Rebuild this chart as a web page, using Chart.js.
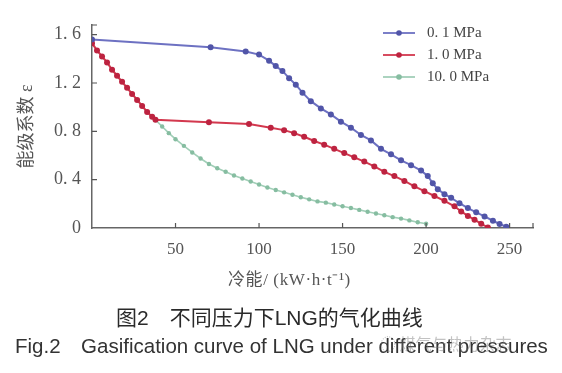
<!DOCTYPE html>
<html>
<head>
<meta charset="utf-8">
<script src="https://cdn.jsdelivr.net/npm/chart.js@4.4.1/dist/chart.umd.min.js"></script>
<style>
  body { margin: 0; background: #fff; }
  #wrap { position: relative; width: 562px; height: 373px; overflow: hidden; background: #fff; }
  #wrap canvas { position: absolute; left: 0; top: 0; }
  .note { position: absolute; white-space: nowrap; line-height: 1; }
  #xTitle { left: 228px; top: 271px; font-size: 17px; letter-spacing: 0.6px; font-family: 'Liberation Serif', 'Noto Sans CJK SC'; color: #555; }
  #capCn { left: 116px; top: 307px; font-size: 21px; font-family: 'Liberation Sans', 'Noto Sans CJK SC'; color: #2a2a2a; }
  #capEn { left: 15px; top: 336px; font-size: 20.5px; font-family: 'Liberation Sans', Arial; color: #333; }
  #mark { left: 380px; top: 335px; font-size: 16px; font-family: 'Noto Sans CJK SC'; color: rgba(120,120,120,0.45); }
</style>
</head>
<body>
<div id="wrap">
  <canvas id="gasChart" width="562" height="373"></canvas>
  <div class="note" id="xTitle">冷能/ (kW·h·t⁻¹)</div>
  <div class="note" id="capCn">图2&emsp;不同压力下LNG的气化曲线</div>
  <div class="note" id="capEn">Fig.2&emsp;Gasification curve of LNG under different pressures</div>
  <div class="note" id="mark">◌ 煤气与热力杂志</div>
</div>
<script>
// --- data ---
const seriesNames = ['0. 1 MPa', '1. 0 MPa', '10. 0 MPa'];

const cold01 = [0, 71, 92, 100, 106, 110, 114, 118, 122, 126, 131, 137, 143, 149, 155, 161, 167, 173, 179, 185, 191, 197, 201, 204, 207, 211, 215, 220, 225, 230, 235, 240, 244, 248];
const eps01  = [1.56, 1.495, 1.46, 1.435, 1.385, 1.34, 1.30, 1.24, 1.186, 1.12, 1.05, 0.99, 0.94, 0.88, 0.83, 0.77, 0.725, 0.655, 0.61, 0.56, 0.52, 0.475, 0.43, 0.37, 0.32, 0.28, 0.25, 0.205, 0.165, 0.13, 0.096, 0.06, 0.033, 0.01];

const cold10 = [0, 3, 6, 9, 12, 15, 18, 21, 24, 27, 30, 33, 36, 38, 70, 94, 107, 115, 121, 127, 133, 139, 145, 151, 157, 163, 169, 175, 181, 187, 193, 199, 205, 211, 217, 221, 225, 229, 233, 237];
const eps10  = [1.53, 1.47, 1.42, 1.37, 1.31, 1.26, 1.21, 1.16, 1.11, 1.06, 1.01, 0.96, 0.92, 0.895, 0.875, 0.86, 0.83, 0.81, 0.785, 0.755, 0.72, 0.69, 0.655, 0.62, 0.585, 0.55, 0.51, 0.465, 0.43, 0.39, 0.345, 0.305, 0.265, 0.225, 0.18, 0.137, 0.10, 0.069, 0.035, 0.005];

const cold100 = [0, 3, 6, 9, 12, 15, 18, 21, 24, 27, 30, 33, 36, 38, 42, 46, 50, 55, 60, 65, 70, 75, 80, 85, 90, 95, 100, 105, 110, 115, 120, 125, 130, 135, 140, 145, 150, 155, 160, 165, 170, 175, 180, 185, 190, 195, 200];
const eps100  = [1.53, 1.47, 1.42, 1.37, 1.31, 1.26, 1.21, 1.16, 1.11, 1.06, 1.01, 0.96, 0.92, 0.895, 0.84, 0.785, 0.735, 0.68, 0.625, 0.575, 0.53, 0.495, 0.465, 0.435, 0.41, 0.385, 0.36, 0.335, 0.315, 0.295, 0.275, 0.255, 0.237, 0.22, 0.21, 0.195, 0.18, 0.165, 0.15, 0.135, 0.12, 0.105, 0.09, 0.078, 0.063, 0.048, 0.035];

const xTicks = [50, 100, 150, 200, 250];
const yTicks = [0, 0.4, 0.8, 1.2, 1.6];
const yTickLabels = ['0', '0. 4', '0. 8', '1. 2', '1. 6'];

const toPoints = (xs, ys) => xs.map((x, i) => ({ x: x, y: ys[i] }));

const lineColors  = ['#6d71c2', '#d3384e', '#a2cfb8'];
const pointColors = ['#5155a8', '#bd2340', '#86bda1'];
const lineWidths  = [2, 2, 1.6];
const pointSizes  = [3, 3, 2.2];
const serif = "'Liberation Serif', 'Noto Sans CJK SC'";

// inward tick marks on both axes
const innerTicks = {
    id: 'innerTicks',
    afterDraw(chart) {
        const ctx = chart.ctx;
        const { left, bottom } = chart.chartArea;
        const xs = chart.scales.x, ys = chart.scales.y;
        ctx.save();
        ctx.strokeStyle = '#555';
        ctx.lineWidth = 1.2;
        ctx.beginPath();
        xTicks.concat([xs.max]).forEach(v => {
            const px = xs.getPixelForValue(v);
            ctx.moveTo(px, bottom);
            ctx.lineTo(px, bottom - 5);
        });
        yTicks.slice(1).concat([ys.max]).forEach(v => {
            const py = ys.getPixelForValue(v);
            ctx.moveTo(left, py);
            ctx.lineTo(left + 5, py);
        });
        ctx.stroke();
        ctx.restore();
    }
};

// legend inside the plot, line with a dot in the middle
const insideLegend = {
    id: 'insideLegend',
    afterDraw(chart) {
        const ctx = chart.ctx;
        const x0 = chart.chartArea.right - 150;
        ctx.save();
        chart.data.datasets.forEach((ds, i) => {
            const y = chart.chartArea.top + 8 + i * 22;
            ctx.strokeStyle = ds.borderColor;
            ctx.lineWidth = 1.8;
            ctx.beginPath();
            ctx.moveTo(x0, y);
            ctx.lineTo(x0 + 32, y);
            ctx.stroke();
            ctx.fillStyle = ds.pointBackgroundColor;
            ctx.beginPath();
            ctx.arc(x0 + 16, y, 2.8, 0, Math.PI * 2);
            ctx.fill();
            ctx.fillStyle = '#444';
            ctx.font = '15px ' + serif;
            ctx.textBaseline = 'middle';
            ctx.fillText(ds.label, x0 + 44, y);
        });
        ctx.restore();
    }
};

const ctx = document.getElementById('gasChart').getContext('2d');

new Chart(ctx, {
    type: 'line',
    data: {
        datasets: [
            { label: seriesNames[0], data: toPoints(cold01, eps01) },
            { label: seriesNames[1], data: toPoints(cold10, eps10) },
            { label: seriesNames[2], data: toPoints(cold100, eps100) }
        ].map((ds, i) => Object.assign(ds, {
            borderColor: lineColors[i],
            backgroundColor: lineColors[i],
            pointBackgroundColor: pointColors[i],
            pointBorderWidth: 0,
            pointRadius: pointSizes[i],
            borderWidth: lineWidths[i],
            tension: 0,
            fill: false
        }))
    },
    options: {
        responsive: false,
        animation: false,
        layout: { padding: { left: 0, top: 25, right: 29, bottom: 73 } },
        plugins: {
            legend: { display: false },
            tooltip: { enabled: false }
        },
        scales: {
            x: {
                type: 'linear',
                min: 0,
                max: 264,
                afterFit: scale => { scale.height = 72; },
                afterBuildTicks: scale => { scale.ticks = xTicks.map(v => ({ value: v })); },
                grid: { display: false },
                border: { color: '#666', width: 1.5 },
                ticks: {
                    padding: 3,
                    color: '#555',
                    font: { family: serif, size: 17 }
                }
            },
            y: {
                min: 0,
                max: 1.68,
                afterFit: scale => { scale.width = 92; },
                afterBuildTicks: scale => { scale.ticks = yTicks.map(v => ({ value: v })); },
                grid: { display: false },
                border: { color: '#666', width: 1.5 },
                ticks: {
                    padding: 3,
                    color: '#555',
                    font: { family: serif, size: 18 },
                    callback: (value, index) => yTickLabels[index]
                },
                title: {
                    display: true,
                    text: '能级系数 ε',
                    color: '#555',
                    font: { family: serif, size: 18 },
                    padding: { top: 16, bottom: 0 }
                }
            }
        }
    },
    plugins: [innerTicks, insideLegend]
});
</script>
</body>
</html>
